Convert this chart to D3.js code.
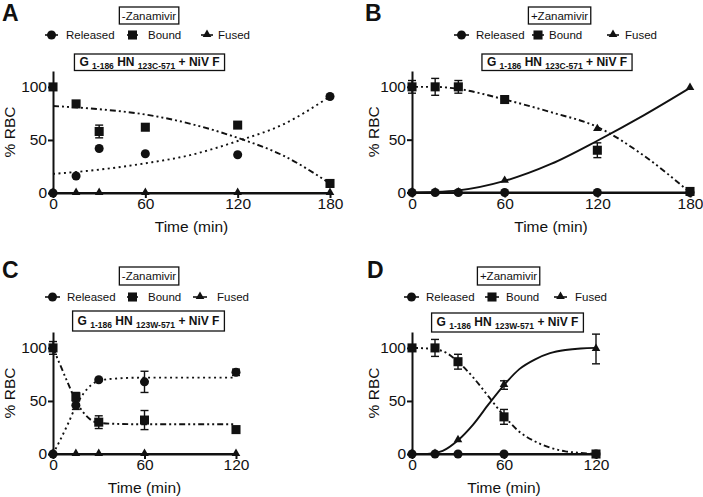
<!DOCTYPE html>
<html>
<head>
<meta charset="utf-8">
<script src="https://cdn.jsdelivr.net/npm/d3@7"></script>
<style>
  body { margin: 0; background: #fff; }
  svg { font-family: "Liberation Sans", Arial, sans-serif; }
</style>
</head>
<body>
<svg id="chart" width="703" height="497"></svg>
<script>
// time points (min) and ticks
var timesAB = [0, 15, 30, 60, 120, 180];
var timesCD = [0, 15, 30, 60, 120];
var xTicksAB = [0, 60, 120, 180];
var xTicksCD = [0, 60, 120];
var yTicks = [0, 50, 100];
var seriesNames = ["Released", "Bound", "Fused"];

// A: 123C, -Zanamivir
var releasedA = [0, 16, 42, 37, 36, 91];
var boundA = [100, 84, 58, 62, 64, 9];
var boundErrA = [0, 0, 6, 0, 0, 0];
var fusedA = [0, 0, 0, 0, 0, 0];
var fitTimesA = [0, 30, 60, 90, 120, 150, 180];
var fitReleasedA = [18, 22, 28, 36, 49, 65, 91];
var fitBoundA = [82, 79, 74, 65, 52, 35, 9];
var fitFusedA = [0, 0, 0, 0, 0, 0, 0];

// B: 123C, +Zanamivir
var releasedB = [0, 0, 0, 0, 0, 0];
var boundB = [100, 100, 100, 88, 40, 1];
var boundErrB = [6, 8, 6, 0, 7, 0];
var fusedB = [0, 0, 0, 11, 60, 99];
var fitTimesB = [0, 15, 30, 60, 90, 120, 150, 180];
var fitReleasedB = [0, 0, 0, 0, 0, 0, 0, 0];
var fitBoundB = [100, 100, 98, 88, 76, 62, 35, 0];
var fitFusedB = [0, 0.5, 2, 11, 27, 49, 73, 99];

// C: 123W, -Zanamivir
var releasedC = [0, 46, 70, 68, 77];
var releasedErrC = [0, 4, 0, 10, 3];
var boundC = [100, 54, 30, 32, 23];
var boundErrC = [6, 4, 6, 9, 0];
var fusedC = [0, 0, 0, 0, 0];
var fitTimesC = [0, 5, 10, 15, 20, 25, 30, 40, 60, 120];
var fitReleasedC = [0, 14, 29, 45, 57, 65, 69, 71, 72, 72];
var fitBoundC = [100, 83, 66, 50, 39, 32, 29.5, 28.5, 28, 28];
var fitFusedC = [0, 0, 0, 0, 0, 0, 0, 0, 0, 0];

// D: 123W, +Zanamivir
var releasedD = [0, 0, 0, 0, 0];
var boundD = [100, 100, 87, 35, 0];
var boundErrD = [0, 8, 7, 7, 0];
var fusedD = [0, 0, 13, 65, 99];
var fusedErrD = [0, 0, 0, 4, 14];
var fitTimesD = [0, 10, 20, 30, 40, 50, 60, 70, 80, 90, 100, 110, 120];
var fitReleasedD = [0, 0, 0, 0, 0, 0, 0, 0, 0, 0, 0, 0, 0];
var fitBoundD = [100, 99.5, 97, 87, 72, 54, 36, 21, 12, 6, 2.5, 1, 0];
var fitFusedD = [0, 0, 3, 13, 28, 47, 65, 80, 89, 95, 98, 99.5, 100];

var DOTTED = "2,3.5", DASHDOT = "6,3,2,3,2,3", SOLID = null;

var panels = [
  {letter: "A", lx: 2, ly: 21, x0: 53, x1: 330, y0: 193, yTop: 71, xmax: 180, ylabX: 10,
   tag: "-Zanamivir", tagCx: 149, tagY: 7, tagH: 17, legY: 35,
   leg: [[45, 58, 66], [127, 138, 148], [201, 213, 218]],
   titleCx: 149.5, titleY: 54, titleH: 16.5, sub2: "123C-571", xTicks: xTicksAB,
   times: timesAB, vals: [releasedA, boundA, fusedA], errs: [null, boundErrA, null],
   fitT: fitTimesA, fits: [fitReleasedA, fitBoundA, fitFusedA], dash: [DOTTED, DASHDOT, SOLID]},
  {letter: "B", lx: 365, ly: 21, x0: 412, x1: 690, y0: 192.5, yTop: 71, xmax: 180, ylabX: 374,
   tag: "+Zanamivir", tagCx: 559.5, tagY: 7, tagH: 17, legY: 35,
   leg: [[454, 469, 476], [532, 544, 549], [607, 619, 625]],
   titleCx: 557, titleY: 54, titleH: 16.5, sub2: "123C-571", xTicks: xTicksAB,
   times: timesAB, vals: [releasedB, boundB, fusedB], errs: [null, boundErrB, null],
   fitT: fitTimesB, fits: [fitReleasedB, fitBoundB, fitFusedB], dash: [SOLID, DASHDOT, SOLID]},
  {letter: "C", lx: 2, ly: 278, x0: 53, x1: 236, y0: 454, yTop: 332, xmax: 120, ylabX: 10,
   tag: "-Zanamivir", tagCx: 149, tagY: 267, tagH: 18, legY: 297,
   leg: [[45, 60, 67], [127, 138, 148], [193, 207, 217]],
   titleCx: 148.5, titleY: 311, titleH: 20, sub2: "123W-571", xTicks: xTicksCD,
   times: timesCD, vals: [releasedC, boundC, fusedC], errs: [releasedErrC, boundErrC, null],
   fitT: fitTimesC, fits: [fitReleasedC, fitBoundC, fitFusedC], dash: [DOTTED, DASHDOT, SOLID]},
  {letter: "D", lx: 367, ly: 278, x0: 412, x1: 596, y0: 454, yTop: 332, xmax: 120, ylabX: 374,
   tag: "+Zanamivir", tagCx: 508.5, tagY: 267, tagH: 18, legY: 297,
   leg: [[404, 419, 426], [485, 499, 506], [554, 567, 575]],
   titleCx: 507.5, titleY: 313, titleH: 19, sub2: "123W-571", xTicks: xTicksCD,
   times: timesCD, vals: [releasedD, boundD, fusedD], errs: [null, boundErrD, fusedErrD],
   fitT: fitTimesD, fits: [fitReleasedD, fitBoundD, fitFusedD], dash: [SOLID, DASHDOT, SOLID]}
];

var ink = "#111";
var symbolTypes = [d3.symbolCircle, d3.symbolSquare, d3.symbolTriangle];
var symbolSizes = [64, 82, 32];
var svg = d3.select("#chart");

function marker(g, k, x, y) {
  g.append("path")
    .attr("d", d3.symbol().type(symbolTypes[k]).size(symbolSizes[k])())
    .attr("transform", "translate(" + x + "," + (k == 2 ? y - 0.5 : y) + ")")
    .attr("fill", ink);
}

function drawPanel(p) {
  var g = svg.append("g");
  var x = d3.scaleLinear().domain([0, p.xmax]).range([p.x0, p.x1]);
  var y = d3.scaleLinear().domain([0, 115]).range([p.y0, p.yTop]);

  // panel letter
  g.append("text").attr("x", p.lx).attr("y", p.ly)
    .attr("font-size", 23).attr("font-weight", "bold").attr("fill", ink).text(p.letter);

  // zanamivir tag
  var tag = g.append("text").attr("x", p.tagCx).attr("y", p.tagY + p.tagH / 2 + 4)
    .attr("text-anchor", "middle").attr("font-size", 11.5).attr("fill", ink).text(p.tag);
  var tb = tag.node().getBBox();
  g.append("rect").attr("x", tb.x - 2.5).attr("y", p.tagY).attr("width", tb.width + 5).attr("height", p.tagH)
    .attr("fill", "none").attr("stroke", ink).attr("stroke-width", 1.3);

  // legend
  p.leg.forEach(function(l, k) {
    g.append("line").attr("x1", l[0]).attr("x2", l[1]).attr("y1", p.legY).attr("y2", p.legY)
      .attr("stroke", ink).attr("stroke-width", 1.6);
    marker(g, k, (l[0] + l[1]) / 2, p.legY);
    g.append("text").attr("x", l[2]).attr("y", p.legY + 4.2)
      .attr("font-size", 11.5).attr("fill", ink).text(seriesNames[k]);
  });

  // construct title
  var tt = g.append("text").attr("x", p.titleCx).attr("y", p.titleY + p.titleH / 2 + 3.5)
    .attr("text-anchor", "middle").attr("font-weight", "bold").attr("font-size", 12).attr("fill", ink);
  tt.append("tspan").text("G ");
  tt.append("tspan").attr("font-size", 8.5).attr("dy", 3).text("1-186");
  tt.append("tspan").attr("dy", -3).text(" HN ");
  tt.append("tspan").attr("font-size", 8.5).attr("dy", 3).text(p.sub2);
  tt.append("tspan").attr("dy", -3).text(" + NiV F");
  var bb = tt.node().getBBox();
  g.append("rect").attr("x", bb.x - 5).attr("y", p.titleY).attr("width", bb.width + 10).attr("height", p.titleH)
    .attr("fill", "none").attr("stroke", ink).attr("stroke-width", 1.3);

  // axes
  var ya = g.append("g").attr("transform", "translate(" + p.x0 + ",0)")
    .call(d3.axisLeft(y).tickValues(yTicks).tickSize(5).tickSizeOuter(0).tickPadding(1));
  var xa = g.append("g").attr("transform", "translate(0," + p.y0 + ")")
    .call(d3.axisBottom(x).tickValues(p.xTicks).tickSize(5).tickSizeOuter(0).tickPadding(0));
  [ya, xa].forEach(function(a) {
    a.select(".domain").attr("stroke", ink).attr("stroke-width", 2);
    a.selectAll(".tick line").attr("stroke", ink).attr("stroke-width", 2);
    a.selectAll(".tick text").attr("font-size", 15.5).attr("fill", ink)
      .attr("font-family", "Liberation Sans, Arial, sans-serif");
  });

  g.append("text").attr("x", (p.x0 + p.x1) / 2).attr("y", p.y0 + 39)
    .attr("text-anchor", "middle").attr("font-size", 15.5).attr("fill", ink).text("Time (min)");
  g.append("text").attr("transform", "translate(" + p.ylabX + "," + ((p.y0 + p.yTop) / 2) + ") rotate(-90)")
    .attr("text-anchor", "middle").attr("dy", "0.35em").attr("font-size", 15.5).attr("fill", ink).text("% RBC");

  // fitted curves
  var line = d3.line().curve(d3.curveMonotoneX)
    .x(function(d) { return x(d[0]); })
    .y(function(d) { return y(d[1]); });
  p.fits.forEach(function(f, k) {
    var pts = p.fitT.map(function(t, i) { return [t, f[i]]; });
    g.append("path").datum(pts).attr("d", line)
      .attr("fill", "none").attr("stroke", ink).attr("stroke-width", 1.9)
      .attr("stroke-dasharray", p.dash[k]);
  });

  // error bars
  p.errs.forEach(function(e, k) {
    if (!e) return;
    p.times.forEach(function(t, i) {
      if (!e[i]) return;
      var v = p.vals[k][i], cx = x(t);
      g.append("line").attr("x1", cx).attr("x2", cx).attr("y1", y(v - e[i])).attr("y2", y(v + e[i]))
        .attr("stroke", ink).attr("stroke-width", 1.4);
      [v - e[i], v + e[i]].forEach(function(w) {
        g.append("line").attr("x1", cx - 4).attr("x2", cx + 4).attr("y1", y(w)).attr("y2", y(w))
          .attr("stroke", ink).attr("stroke-width", 1.4);
      });
    });
  });

  // markers: fused first, then released, then bound on top
  [2, 0, 1].forEach(function(k) {
    p.times.forEach(function(t, i) { marker(g, k, x(t), y(p.vals[k][i])); });
  });
}

panels.forEach(drawPanel);
</script>
</body>
</html>
